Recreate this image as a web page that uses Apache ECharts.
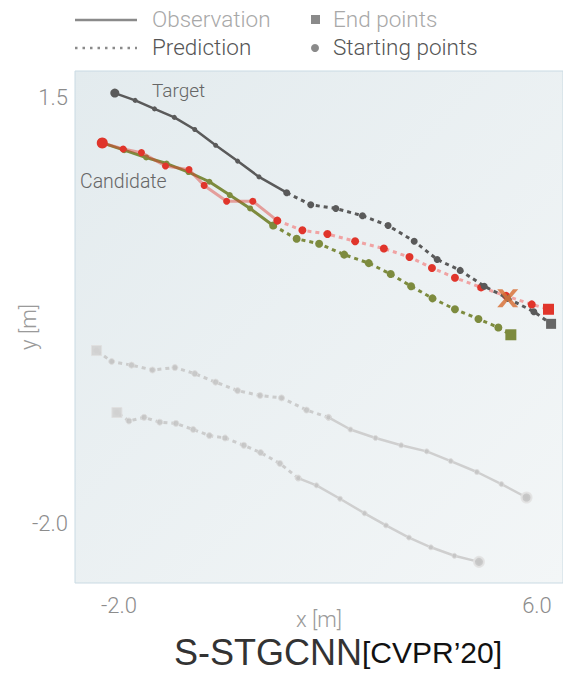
<!DOCTYPE html>
<html>
<head>
<meta charset="utf-8">
<script src="https://cdn.jsdelivr.net/npm/echarts@6/dist/echarts.min.js"></script>
<style>
  html, body { margin: 0; padding: 0; background: #ffffff; }
  #chart { width: 563px; height: 673px; }
</style>
</head>
<body>
<div id="chart"></div>
<script>
// Trajectories in metres: observed part (starts at the starting point) and
// predicted part (ends at the end point).
const targetObs = [[-2.08, 1.54], [-1.69, 1.48], [-1.32, 1.41], [-0.94, 1.34], [-0.55, 1.24],
  [-0.15, 1.11], [0.27, 0.98], [0.68, 0.85], [1.21, 0.72]];
const targetPred = [[1.67, 0.62], [2.15, 0.59], [2.66, 0.53], [3.15, 0.45], [3.65, 0.32],
  [4.09, 0.17], [4.53, 0.08], [4.99, -0.05], [5.44, -0.15], [5.94, -0.26], [6.27, -0.36]];

const redObs = [[-2.32, 1.13], [-1.92, 1.08], [-1.57, 1.05], [-1.11, 0.94], [-0.66, 0.91],
  [-0.37, 0.78], [0.06, 0.65], [0.56, 0.65], [1.03, 0.49]];
const redPred = [[1.51, 0.41], [1.99, 0.38], [2.52, 0.32], [3.07, 0.26], [3.56, 0.19],
  [3.99, 0.10], [4.43, 0.02], [4.93, -0.06], [5.41, -0.13], [5.90, -0.20], [6.22, -0.24]];

const oliveObs = [[-2.32, 1.13], [-1.90, 1.07], [-1.48, 1.01], [-1.09, 0.96], [-0.67, 0.89],
  [-0.27, 0.81], [0.12, 0.70], [0.51, 0.59], [0.95, 0.45]];
const olivePred = [[1.40, 0.34], [1.83, 0.30], [2.31, 0.21], [2.78, 0.14], [3.20, 0.05],
  [3.59, -0.05], [4.00, -0.15], [4.43, -0.24], [4.88, -0.32], [5.26, -0.39], [5.50, -0.45]];

const otherAObs = [[5.80, -1.79], [5.32, -1.68], [4.85, -1.58], [4.35, -1.49], [3.89, -1.41],
  [3.40, -1.36], [2.91, -1.30], [2.43, -1.23], [2.01, -1.13]];
const otherAPred = [[1.59, -1.07], [1.11, -0.97], [0.70, -0.95], [0.27, -0.91], [-0.15, -0.84],
  [-0.55, -0.77], [-0.93, -0.72], [-1.36, -0.74], [-1.76, -0.70], [-2.14, -0.67], [-2.43, -0.58]];

const otherBObs = [[4.89, -2.32], [4.42, -2.27], [3.97, -2.20], [3.55, -2.12], [3.11, -2.02],
  [2.70, -1.92], [2.23, -1.80], [1.78, -1.69], [1.43, -1.63]];
const otherBPred = [[1.08, -1.51], [0.71, -1.42], [0.39, -1.36], [0.03, -1.30], [-0.27, -1.28],
  [-0.58, -1.23], [-0.91, -1.18], [-1.22, -1.17], [-1.52, -1.13], [-1.81, -1.16], [-2.04, -1.09]];

const crossPoint = [[5.44, -0.15]];

const xTicks = [-2.0, 6.0];
const yTicks = [1.5, -2.0];

const FONT = 'Roboto, "Liberation Sans", sans-serif';

// Build the four series of one trajectory: solid observed line, dotted
// predicted line, starting circle and ending square.
function trajectory(obs, pred, s) {
  const last = obs[obs.length - 1];
  const predLine = [last].concat(pred.slice(0, -1));
  const endPt = pred[pred.length - 1];
  return [
    {
      type: 'line', data: predLine.concat([endPt]), z: s.z,
      symbol: 'circle', symbolSize: s.predDot, showSymbol: true,
      itemStyle: { color: s.dot, borderColor: s.dotBorder || s.dot, borderWidth: s.dotBorder ? 1 : 0, opacity: s.dotOpacity || 1 },
      lineStyle: { color: s.predLine, width: 3, type: [4, 4], cap: 'butt', opacity: s.lineOpacity || 1 },
      silent: true, animation: false
    },
    {
      type: 'line', data: obs, z: s.z + 1,
      symbol: 'circle', symbolSize: s.obsDot, showSymbol: true,
      itemStyle: { color: s.dot, borderColor: s.dotBorder || s.dot, borderWidth: s.dotBorder ? 1 : 0, opacity: s.dotOpacity || 1 },
      lineStyle: { color: s.obsLine, width: s.obsWidth || 3, opacity: s.lineOpacity || 1 },
      silent: true, animation: false
    },
    {
      type: 'scatter', data: [obs[0]], z: s.z + 2,
      symbol: 'circle', symbolSize: s.startSize,
      itemStyle: { color: s.dot, opacity: s.dotOpacity || 1, borderColor: s.startBorder || s.dot, borderWidth: s.startBorder ? 2 : 0 },
      silent: true, animation: false
    },
    {
      type: 'scatter', data: [endPt], z: s.z + 2,
      symbol: 'rect', symbolSize: s.endSize,
      itemStyle: { color: s.endColor, opacity: s.dotOpacity || 1, borderColor: s.endBorder || s.endColor, borderWidth: s.endBorder ? 1 : 0 },
      silent: true, animation: false
    }
  ];
}

const series = [].concat(
  trajectory(otherAObs, otherAPred, {
    z: 2, dot: '#c4c4c4', dotBorder: '#dcdcdc', predLine: '#c8c8c8', obsLine: '#cbcbcb',
    obsWidth: 2.5, predDot: 6, obsDot: 5, startSize: 10, startBorder: '#e2e2e2',
    endSize: 10, endColor: '#d2d2d2', endBorder: '#e0e0e0', dotOpacity: 0.9, lineOpacity: 0.9
  }),
  trajectory(otherBObs, otherBPred, {
    z: 2, dot: '#c4c4c4', dotBorder: '#dcdcdc', predLine: '#c8c8c8', obsLine: '#cbcbcb',
    obsWidth: 2.5, predDot: 6, obsDot: 5, startSize: 10, startBorder: '#e2e2e2',
    endSize: 10, endColor: '#d2d2d2', endBorder: '#e0e0e0', dotOpacity: 0.9, lineOpacity: 0.9
  }),
  trajectory(oliveObs, olivePred, {
    z: 10, dot: '#7d8b3e', predLine: '#7d8b3e', obsLine: '#7d8b3e',
    predDot: 8, obsDot: 6, startSize: 10, endSize: 11, endColor: '#7d8b3e'
  }),
  trajectory(redObs, redPred, {
    z: 20, dot: '#e0352b', predLine: '#f0a3a3', obsLine: 'rgba(224,60,50,0.45)',
    predDot: 8, obsDot: 7, startSize: 11, endSize: 11, endColor: '#e0352b'
  }),
  trajectory(targetObs, targetPred, {
    z: 30, dot: '#5a5a5a', predLine: '#5a5a5a', obsLine: '#5a5a5a', obsWidth: 2.5,
    predDot: 7, obsDot: 5, startSize: 9, endSize: 10, endColor: '#666666'
  }),
  [{
    type: 'scatter', data: crossPoint, z: 40,
    symbol: 'path://M0,0 L5,0 L10,6.5 L15,0 L20,0 L12.6,9 L20,18 L15,18 L10,11.5 L5,18 L0,18 L7.4,9 Z',
    symbolSize: [21, 18],
    itemStyle: { color: '#d8733a', opacity: 0.85 },
    silent: true, animation: false
  }]
);

const chart = echarts.init(document.getElementById('chart'), null, { renderer: 'svg' });

const legendText = (x, y, text, color) => ({
  type: 'text', left: x, top: y - 13,
  style: { text: text, fill: color, font: '300 22.5px ' + FONT }
});

chart.setOption({
  animation: false,
  backgroundColor: '#ffffff',
  grid: {
    left: 75, top: 71, right: 0, bottom: 90, show: true,
    outerBoundsMode: 'none', containLabel: false,
    backgroundColor: {
      type: 'linear', x: 0, y: 0, x2: 1, y2: 1,
      colorStops: [{ offset: 0, color: '#e3ebee' }, { offset: 1, color: '#f3f6f7' }]
    },
    borderColor: '#c9dae3', borderWidth: 1
  },
  xAxis: {
    type: 'value', min: -2.842, max: 6.498,
    name: 'x [m]', nameLocation: 'middle', nameGap: 25, nameMoveOverlap: false,
    nameTextStyle: { color: '#9a9a9a', fontSize: 22, lineHeight: 22, fontFamily: FONT, fontWeight: 300 },
    axisLine: { show: false }, axisTick: { show: false }, splitLine: { show: false },
    axisLabel: {
      customValues: xTicks, margin: 11, color: '#8c8c8c', fontSize: 22,
      fontFamily: FONT, fontWeight: 300,
      formatter: v => v.toFixed(1)
    }
  },
  yAxis: {
    type: 'value', min: -2.494, max: 1.722,
    name: 'y [m]', nameLocation: 'middle', nameGap: 36, nameMoveOverlap: false,
    nameTextStyle: { color: '#9a9a9a', fontSize: 22, lineHeight: 22, fontFamily: FONT, fontWeight: 300 },
    axisLine: { show: false }, axisTick: { show: false }, splitLine: { show: false },
    axisLabel: {
      customValues: yTicks, margin: 7, color: '#8c8c8c', fontSize: 22,
      fontFamily: FONT, fontWeight: 300,
      formatter: v => v.toFixed(1)
    }
  },
  graphic: [
    // legend
    { type: 'line', shape: { x1: 75, y1: 20, x2: 137, y2: 20 }, style: { stroke: '#8a8a8a', lineWidth: 2.5 } },
    { type: 'line', shape: { x1: 75, y1: 48, x2: 137, y2: 48 }, style: { stroke: '#8a8a8a', lineWidth: 2.5, lineDash: [2.5, 5] } },
    { type: 'rect', shape: { x: 311, y: 15, width: 9, height: 9 }, style: { fill: '#8a8a8a' } },
    { type: 'circle', shape: { cx: 315, cy: 48, r: 4 }, style: { fill: '#8a8a8a' } },
    legendText(152, 20, 'Observation', '#a8a8a8'),
    legendText(152, 48, 'Prediction', '#555555'),
    legendText(333, 20, 'End points', '#a8a8a8'),
    legendText(333, 48, 'Starting points', '#555555'),
    // trajectory annotations
    { type: 'text', left: 152, top: 81, z: 50, style: { text: 'Target', fill: '#666666', font: '300 19px ' + FONT } },
    { type: 'text', left: 80, top: 171, z: 50, style: { text: 'Candidate', fill: '#666666', font: '300 19.5px ' + FONT } },
    // method title
    {
      type: 'text', left: 174, top: 634,
      style: {
        text: '{a|S-STGCNN}{b|[CVPR’20]}',
        rich: {
          a: { fontSize: 36, lineHeight: 36, fontFamily: '"Liberation Sans", Arial, sans-serif', fill: '#333333', verticalAlign: 'middle' },
          b: { fontSize: 30, lineHeight: 36, fontFamily: '"Liberation Sans", Arial, sans-serif', fill: '#111111', verticalAlign: 'middle' }
        }
      }
    }
  ],
  series: series
});
</script>
</body>
</html>
